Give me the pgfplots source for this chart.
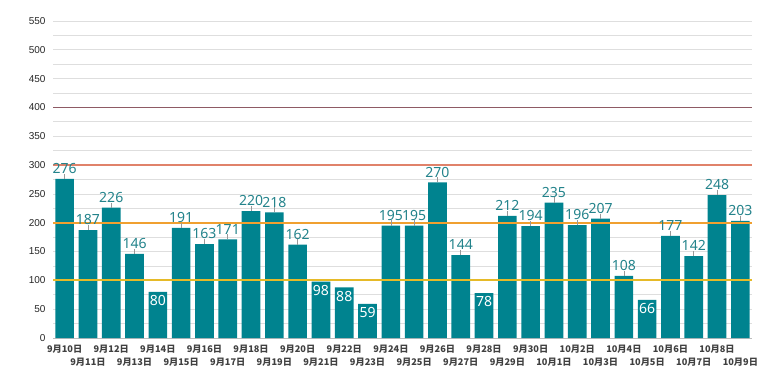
\documentclass[border=0pt]{standalone}
\usepackage{pgfplots}
\pgfplotsset{compat=1.18}
\usepackage{pgfplotstable}
\usepackage{fontspec}
\setmainfont{Liberation Sans}
\newfontfamily\cjk{Noto Sans CJK SC}
\newfontfamily\valfont{Noto Sans}
\definecolor{barteal}{HTML}{00838F}
\definecolor{txtteal}{HTML}{23838B}
\definecolor{gridgray}{HTML}{DEDEDE}
\definecolor{axisgray}{HTML}{BDBDBD}
\definecolor{lyellow}{HTML}{E6BA28}
\definecolor{lorange}{HTML}{F0A030}
\definecolor{lsalmon}{HTML}{E0826A}
\definecolor{lmaroon}{HTML}{8E5A64}
\pgfplotstableread{
i v
0 276
1 187
2 226
3 146
4 80
5 191
6 163
7 171
8 220
9 218
10 162
11 98
12 88
13 59
14 195
15 195
16 270
17 144
18 78
19 212
20 194
21 235
22 196
23 207
24 108
25 66
26 177
27 142
28 248
29 203
}\data
\pgfplotstableread{
i v
0 276
1 187
2 226
3 146
5 191
6 163
7 171
8 220
9 218
10 162
14 195
15 195
16 270
17 144
19 212
20 194
21 235
22 196
23 207
24 108
26 177
27 142
28 248
29 203
}\high
\pgfplotstableread{
i v
4 80
11 98
12 88
13 59
18 78
25 66
}\low
\begin{document}
\begin{tikzpicture}
\begin{axis}[
  scale only axis, width=699pt, height=317pt,
  xmin=-0.5, xmax=29.5, ymin=0, ymax=550,
  ytick={0,50,...,550}, minor ytick={25,75,...,525},
  ymajorgrids, yminorgrids,
  major grid style={draw=gridgray, line width=0.8pt},
  minor grid style={draw=gridgray, line width=0.8pt},
  axis x line*=bottom, axis y line*=left,
  x axis line style={-, draw=axisgray, line width=0.8pt},
  y axis line style={draw=none},
  major tick length=0pt, minor tick length=0pt,
  /pgf/number format/assume math mode=true,
  yticklabel style={font=\fontsize{10}{11}\selectfont, text=black!85, xshift=-4pt},
  xtick={0,2,...,28},
  xticklabels={9月10日,9月12日,9月14日,9月16日,9月18日,9月20日,9月22日,9月24日,9月26日,9月28日,9月30日,10月2日,10月4日,10月6日,10月8日},
  extra x ticks={1,3,...,29},
  extra x tick labels={9月11日,9月13日,9月15日,9月17日,9月19日,9月21日,9月23日,9月25日,9月27日,9月29日,10月1日,10月3日,10月5日,10月7日,10月9日},
  extra x tick style={xticklabel style={yshift=-13pt}},
  xticklabel style={font=\cjk\bfseries\fontsize{9.2}{10}\selectfont, text=black!75, yshift=-4pt},
]
\addplot[ybar, bar width=0.8, fill=barteal, draw=none] table[x=i,y=v] {\data};
\addplot[color=lyellow, line width=2pt] coordinates {(-0.5,100) (29.5,100)};
\addplot[color=lorange, line width=2pt] coordinates {(-0.5,200) (29.5,200)};
\addplot[color=lsalmon, line width=1.6pt] coordinates {(-0.5,300) (29.5,300)};
\addplot[color=lmaroon, line width=1.6pt] coordinates {(-0.5,400) (29.5,400)};
\addplot[draw=none, no markers,
  error bars/.cd, y dir=plus, y fixed=9, error mark=none,
  error bar style={draw=black!40, line width=0.6pt}]
  table[x=i,y=v] {\high};
\addplot[draw=none, no markers, nodes near coords,
  every node near coord/.append style={font=\valfont\fontsize{14}{16}\selectfont, text=txtteal, anchor=south, inner sep=0pt, yshift=5pt}]
  table[x=i,y=v] {\high};
\addplot[draw=none, no markers, nodes near coords,
  every node near coord/.append style={font=\valfont\fontsize{14}{16}\selectfont, text=white, anchor=north, inner sep=0pt, yshift=-3.5pt}]
  table[x=i,y=v] {\low};
\end{axis}
\pgfresetboundingbox
\path[use as bounding box] (current axis.south west) ++(-53pt,-52pt) rectangle ([xshift=28pt,yshift=21pt]current axis.north east);
\end{tikzpicture}
\end{document}
